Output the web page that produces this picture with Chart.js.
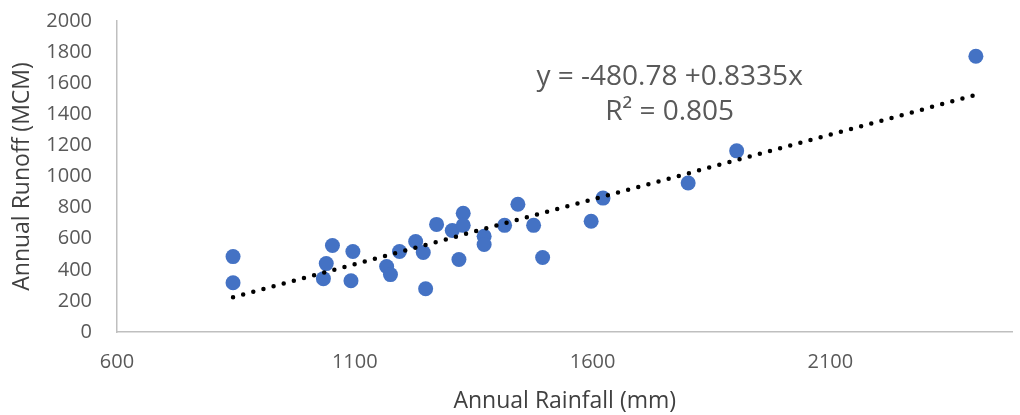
<!DOCTYPE html>
<html>
<head>
<meta charset="utf-8">
<script src="https://cdn.jsdelivr.net/npm/chart.js@4"></script>
<style>
  html, body { margin: 0; padding: 0; background: #fff; }
  #wrap { width: 1020px; height: 415px; }
</style>
</head>
<body>
<div id="wrap"><canvas id="runoffChart" width="1020" height="415"></canvas></div>
<script>
// rainfall (mm) vs runoff (MCM)
const rainfall = [844, 844, 1040, 1034, 1053, 1096, 1092, 1167, 1175, 1194,
                  1228, 1244, 1249, 1272, 1305, 1328, 1328, 1319, 1372, 1372,
                  1415, 1443, 1476, 1495, 1597, 1622, 1801, 1903, 2406];
const runoff = [485, 317, 440, 343, 556, 518, 330, 421, 369, 518,
                582, 511, 278, 692, 653, 764, 686, 466, 615, 563,
                686, 822, 686, 479, 712, 861, 958, 1165, 1773];

const xTicks = [600, 1100, 1600, 2100];
const yTicks = [0, 200, 400, 600, 800, 1000, 1200, 1400, 1600, 1800, 2000];

// trendline as printed on the chart
const intercept = -480.78;
const slope = 0.8335;
const rSquared = 0.805;
const trendX = [844, 2406];

const points = rainfall.map((r, i) => ({x: r, y: runoff[i]}));
const trend = trendX.map(x => ({x: x, y: intercept + slope * x}));

const grey = "#595959";
const font = "'Open Sans', 'Noto Sans', sans-serif";

const equationLabel = {
    id: "equationLabel",
    afterDraw(chart) {
        const ctx = chart.ctx;
        const xs = chart.scales.x, ys = chart.scales.y;
        const cx = xs.getPixelForValue(1762);
        ctx.save();
        ctx.fillStyle = grey;
        ctx.font = "28px " + font;
        ctx.textAlign = "center";
        ctx.textBaseline = "middle";
        ctx.fillText("y = " + intercept + " +" + slope + "x", cx, ys.getPixelForValue(1640));
        ctx.fillText("R\u00B2 = " + rSquared, cx, ys.getPixelForValue(1415));
        ctx.restore();
    }
};

new Chart("runoffChart", {
    type: "scatter",
    data: {
        datasets: [{
            data: trend,
            showLine: true,
            pointRadius: 0,
            borderColor: "#000",
            borderWidth: 4.5,
            borderDash: [0, 10.5],
            borderCapStyle: "round",
            order: 0
        }, {
            data: points,
            pointRadius: 7.5,
            pointBackgroundColor: "#4472C4",
            pointBorderColor: "#4472C4",
            pointBorderWidth: 0,
            order: 1
        }]
    },
    options: {
        responsive: false,
        animation: false,
        devicePixelRatio: 1,
        layout: {padding: {top: 21, right: 1, left: 0, bottom: 0}},
        plugins: {
            legend: {display: false},
            tooltip: {enabled: false}
        },
        scales: {
            x: {
                type: "linear",
                min: 600,
                max: 2483,
                grid: {display: false, drawTicks: false},
                border: {display: true, color: "#bfbfbf", width: 1.5},
                afterBuildTicks: axis => { axis.ticks = xTicks.map(v => ({value: v})); },
                afterFit: axis => {
                    axis.height = 83;
                    axis.paddingLeft = 0;
                    axis.paddingRight = 0;
                },
                ticks: {color: grey, font: {family: font, size: 20}, padding: 18, maxRotation: 0,
                        callback: v => String(v)},
                title: {display: true, text: "Annual Rainfall (mm)", color: "#404040",
                        font: {family: font, size: 23}, padding: {top: 0, bottom: 0}}
            },
            y: {
                min: 0,
                max: 2000,
                grid: {display: false, drawTicks: false},
                border: {display: true, color: "#bfbfbf", width: 1.5},
                afterBuildTicks: axis => { axis.ticks = yTicks.map(v => ({value: v})); },
                afterFit: axis => {
                    axis.width = 117;
                    axis.paddingTop = 0;
                    axis.paddingBottom = 0;
                },
                ticks: {color: grey, font: {family: font, size: 20}, padding: 25,
                        callback: v => String(v)},
                title: {display: true, text: "Annual Runoff (MCM)", color: "#404040",
                        font: {family: font, size: 23}, padding: {top: 9, bottom: 0}}
            }
        }
    },
    plugins: [equationLabel]
});
</script>
</body>
</html>
